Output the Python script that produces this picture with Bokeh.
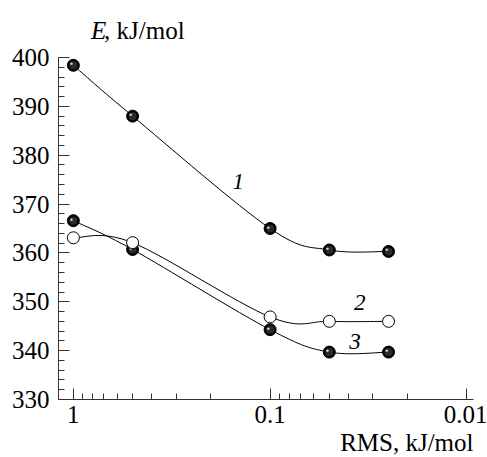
import numpy as np
from bokeh.plotting import figure
from bokeh.layouts import column
from bokeh.models import Range1d, FixedTicker, CustomJSTickFormatter, ColumnDataSource, Title
from bokeh.core.properties import value
from bokeh.embed import file_html
from bokeh.resources import INLINE

# ---- data ----
rms = [1.0, 0.5, 0.1, 0.05, 0.025]
e1 = [398.4, 388.0, 365.0, 360.6, 360.3]
e2 = [363.1, 362.1, 346.9, 346.0, 346.0]
e3 = [366.6, 360.7, 344.3, 339.7, 339.7]
x_ticks = [1.0, 0.1, 0.01]
y_ticks = [330, 340, 350, 360, 370, 380, 390, 400]
curve_labels = ["1", "2", "3"]
label_x = [0.145, 0.035, 0.037]
label_y = [374.7, 349.8, 341.9]
y_title_parts = ["E", ", kJ/mol"]
x_title = "RMS, kJ/mol"

FONT = "Liberation Serif"
X_LO, X_HI = 1.19, 0.00925
Y_LO, Y_HI = 330, 400
W = 487
TOP_H = 43
MAIN_H = 457 - TOP_H

# ---- small header figure holding the y-axis title ----
head = figure(width=W, height=TOP_H, x_range=Range1d(0, W), y_range=Range1d(0, TOP_H),
              output_backend="svg", toolbar_location=None,
              x_axis_location=None, y_axis_location=None,
              min_border=0, min_border_left=0, min_border_right=0,
              min_border_top=0, min_border_bottom=0)
head.title.visible = False
head.grid.visible = False
head.outline_line_color = None
head.background_fill_color = "white"
head.border_fill_color = "white"
head.text([38], [TOP_H - 30], text=[y_title_parts[0]], text_font=value(FONT),
          text_font_size="25px", text_font_style="italic", text_baseline="alphabetic",
          text_align="left", text_color="black")
head.text([53.5], [TOP_H - 30], text=[y_title_parts[1]], text_font=value(FONT),
          text_font_size="25px", text_baseline="alphabetic", text_align="left",
          text_color="black")

# ---- main plot ----
p = figure(width=W, height=MAIN_H, x_axis_type="log",
           x_range=Range1d(X_LO, X_HI), y_range=Range1d(Y_LO, Y_HI),
           output_backend="svg", toolbar_location=None,
           min_border_left=58, min_border_right=14,
           min_border_top=57 - TOP_H, min_border_bottom=0)
p.title.visible = False
p.outline_line_color = None
p.xgrid.visible = False
p.ygrid.visible = False
p.background_fill_color = "white"
p.border_fill_color = "white"


def smooth_curve(xs, ys):
    """Catmull-Rom bezier segments in (log10 x, y) space."""
    lx = np.log10(np.array(xs, dtype=float))
    yy = np.array(ys, dtype=float)
    n = len(lx)
    x0, y0, x1, y1, cx0, cy0, cx1, cy1 = [], [], [], [], [], [], [], []
    for i in range(n - 1):
        pm = i - 1 if i > 0 else i
        pn = i + 2 if i + 2 < n else i + 1
        c0x = lx[i] + (lx[i + 1] - lx[pm]) / 6.0
        c0y = yy[i] + (yy[i + 1] - yy[pm]) / 6.0
        c1x = lx[i + 1] - (lx[pn] - lx[i]) / 6.0
        c1y = yy[i + 1] - (yy[pn] - yy[i]) / 6.0
        x0.append(10 ** lx[i]); y0.append(yy[i])
        x1.append(10 ** lx[i + 1]); y1.append(yy[i + 1])
        cx0.append(10 ** c0x); cy0.append(c0y)
        cx1.append(10 ** c1x); cy1.append(c1y)
    return dict(x0=x0, y0=y0, x1=x1, y1=y1, cx0=cx0, cy0=cy0, cx1=cx1, cy1=cy1)


for ys in (e1, e2, e3):
    src = ColumnDataSource(smooth_curve(rms, ys))
    p.bezier(x0="x0", y0="y0", x1="x1", y1="y1", cx0="cx0", cy0="cy0",
             cx1="cx1", cy1="cy1", source=src, line_color="black", line_width=1)


def balls(ys):
    p.scatter(rms, ys, size=12, marker="circle", fill_color="black", line_color="black")
    p.scatter(rms, ys, size=8, marker="circle", fill_color="#2a2a2a", line_color=None)
    p.text(rms, ys, text=["\u25cf"] * len(rms), text_font_size="5px",
           text_color="#e8e8e8", text_align="center", text_baseline="middle",
           x_offset=-2, y_offset=-2)


balls(e1)
balls(e3)
p.scatter(rms, e2, size=12, marker="circle", fill_color="white", line_color="black", line_width=1)

p.text(label_x, label_y, text=curve_labels, text_font=value(FONT), text_font_size="23px",
       text_font_style="italic", text_align="center", text_baseline="middle", text_color="black")

# axes
xa = p.xaxis[0]
xa.ticker = FixedTicker(ticks=x_ticks,
                        minor_ticks=[k * 0.1 for k in range(2, 10)] + [k * 0.01 for k in range(2, 10)])
xa.formatter = CustomJSTickFormatter(code="return tick.toString();")
ya = p.yaxis[0]
ya.ticker = FixedTicker(ticks=y_ticks, minor_ticks=list(range(330, 401, 2)))

for ax in (xa, ya):
    ax.major_tick_in = 11
    ax.major_tick_out = 0
    ax.minor_tick_in = 6
    ax.minor_tick_out = 0
    ax.axis_line_color = "#333333"
    ax.major_tick_line_color = "#333333"
    ax.minor_tick_line_color = "#333333"
    ax.major_label_text_font = FONT
    ax.major_label_text_font_size = "25px"
    ax.major_label_text_color = "black"
    ax.major_label_standoff = 9
xa.major_label_standoff = 6

# x-axis title, right aligned below the axis
p.add_layout(Title(text=x_title, align="right", text_font=FONT,
                   text_font_size="25px", text_font_style="normal",
                   text_color="black", offset=0, standoff=3), "below")

layout = column(head, p, spacing=0)
open("out.html", "w").write(file_html(layout, INLINE))
